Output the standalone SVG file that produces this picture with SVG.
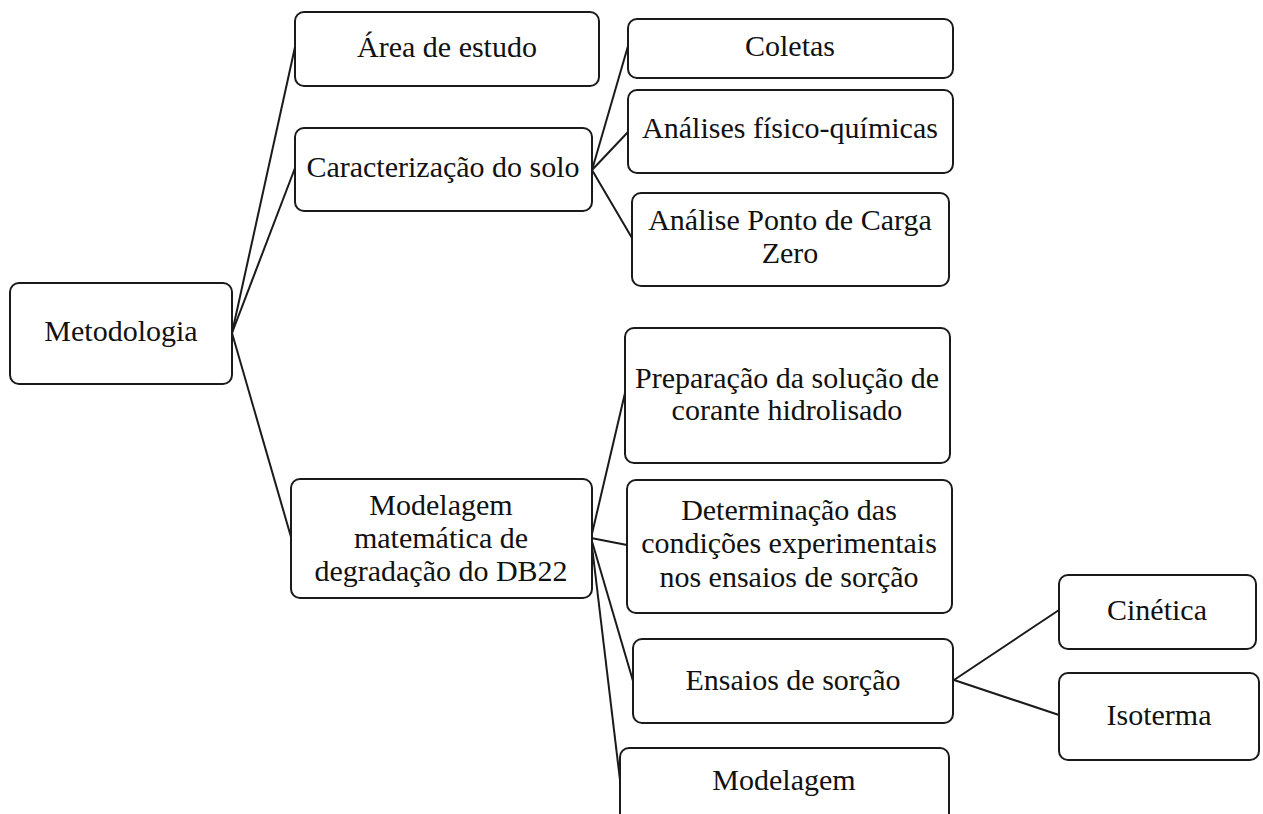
<svg xmlns="http://www.w3.org/2000/svg" width="1263" height="814" viewBox="0 0 1263 814">
<style>
.box{fill:#fff;stroke:#1a1a1a;stroke-width:2}
.t{font-family:"Liberation Serif","Times New Roman",serif;font-size:30px;fill:#111;text-anchor:middle}
.c{stroke:#1a1a1a;stroke-width:2;fill:none}
</style>
<rect width="1263" height="814" fill="#fff"/>
<g id="connectors">
<line class="c" x1="232" y1="333" x2="295" y2="47"/>
<line class="c" x1="232" y1="333" x2="295" y2="168"/>
<line class="c" x1="232" y1="333" x2="291" y2="537"/>
<line class="c" x1="592" y1="170" x2="628" y2="46"/>
<line class="c" x1="592" y1="170" x2="628" y2="132"/>
<line class="c" x1="592" y1="170" x2="632" y2="238"/>
<line class="c" x1="591" y1="538" x2="625" y2="393"/>
<line class="c" x1="591" y1="538" x2="627" y2="545"/>
<line class="c" x1="591" y1="538" x2="633" y2="681"/>
<line class="c" x1="591" y1="538" x2="620" y2="780"/>
<line class="c" x1="954" y1="680" x2="1059" y2="610"/>
<line class="c" x1="954" y1="680" x2="1059" y2="715"/>
</g>
<g id="metodologia"><rect class="box" x="10" y="283" width="222" height="101" rx="9"/><text class="t" x="121" y="341">Metodologia</text></g>
<g id="area"><rect class="box" x="295" y="12" width="304" height="74" rx="9"/><text class="t" x="447" y="57">Área de estudo</text></g>
<g id="caracterizacao"><rect class="box" x="295" y="128" width="297" height="83" rx="9"/><text class="t" x="443" y="177">Caracterização do solo</text></g>
<g id="modelagem-mat"><rect class="box" x="291" y="479" width="301" height="119" rx="9"/><text class="t" x="441" y="515">Modelagem</text><text class="t" x="441" y="548">matemática de</text><text class="t" x="441" y="581">degradação do DB22</text></g>
<g id="coletas"><rect class="box" x="628" y="19" width="325" height="59" rx="9"/><text class="t" x="790" y="56">Coletas</text></g>
<g id="analises"><rect class="box" x="628" y="90" width="325" height="83" rx="9"/><text class="t" x="790" y="138">Análises físico-químicas</text></g>
<g id="pcz"><rect class="box" x="632" y="193" width="317" height="93" rx="9"/><text class="t" x="790" y="230">Análise Ponto de Carga</text><text class="t" x="790" y="263">Zero</text></g>
<g id="preparacao"><rect class="box" x="625" y="328" width="325" height="135" rx="9"/><text class="t" x="787" y="388">Preparação da solução de</text><text class="t" x="787" y="420">corante hidrolisado</text></g>
<g id="determinacao"><rect class="box" x="627" y="480" width="325" height="133" rx="9"/><text class="t" x="789" y="520">Determinação das</text><text class="t" x="789" y="553">condições experimentais</text><text class="t" x="789" y="587">nos ensaios de sorção</text></g>
<g id="ensaios"><rect class="box" x="633" y="639" width="320" height="84" rx="9"/><text class="t" x="793" y="690">Ensaios de sorção</text></g>
<g id="modelagem"><rect class="box" x="620" y="748" width="329" height="90" rx="9"/><text class="t" x="784" y="790">Modelagem</text></g>
<g id="cinetica"><rect class="box" x="1059" y="575" width="197" height="74" rx="9"/><text class="t" x="1157" y="620">Cinética</text></g>
<g id="isoterma"><rect class="box" x="1059" y="673" width="200" height="87" rx="9"/><text class="t" x="1159" y="725">Isoterma</text></g>
</svg>
